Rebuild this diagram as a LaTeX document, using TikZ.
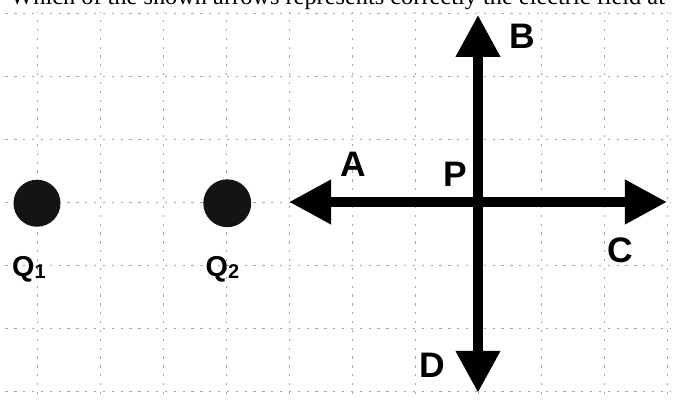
\documentclass[tikz,border=0pt]{standalone}
\usepackage{fontspec}
\setmainfont{Liberation Serif}
\setsansfont{Liberation Sans}
\usepackage{tikz}
\usetikzlibrary{arrows.meta}

\begin{document}
\begin{tikzpicture}[
    gridline/.style={gray!70,line width=0.4pt,dash pattern=on 1pt off 3pt},
    field/.style={line width=4.5pt,-{Triangle[length=19pt,width=19pt]}},
    charge/.style={fill=black!92},
    lbl/.style={font=\sffamily\bfseries\fontsize{16}{18}\selectfont,inner sep=0pt},
    qlbl/.style={font=\sffamily\bfseries\fontsize{13}{15}\selectfont,inner sep=0pt,anchor=base west}]
  \useasboundingbox (-7.587,-3.175) rectangle (3.175,3.206);
  \clip (-7.587,-3.175) rectangle (3.175,3.206);
  % Question (cut off at the top)
  \node[anchor=base west,inner sep=0pt,font=\fontsize{11}{13}\selectfont] (question) at (-7.43,3.14)
    {Which of the shown arrows represents correctly the electric field at};
  % Grid
  \draw[gridline] (-7.5,-3.05) grid (3.05,3.02);
  % Point P and arrow ends
  \coordinate (P) at (0,0);
  \coordinate (endA) at (-3,0);
  \coordinate (endB) at (0,2.97);
  \coordinate (endC) at (3,0);
  \coordinate (endD) at (0,-3.03);
  % Charges
  \fill[charge] (-7,-0.02) circle (0.373);
  \fill[charge] (-3.98,-0.02) circle (0.38);
  \node[qlbl] (q1) at (-7.40,-1.19) {Q\raisebox{-0.5pt}{\fontsize{9}{9}\selectfont 1}};
  \node[qlbl] (q2) at (-4.33,-1.19) {Q\raisebox{-0.5pt}{\fontsize{9}{9}\selectfont 2}};
  % Arrows
  \draw[field] (P) -- (endA);
  \draw[field] (P) -- (endB);
  \draw[field] (P) -- (endC);
  \draw[field] (P) -- (endD);
  % Labels
  \node[lbl] (labA) at (-1.98,0.60) {A};
  \node[lbl] (labB) at (0.70,2.63) {B};
  \node[lbl] (labC) at (2.26,-0.76) {C};
  \node[lbl] (labD) at (-0.72,-2.59) {D};
  \node[lbl] (labP) at (-0.36,0.44) {P};
\end{tikzpicture}
\end{document}
